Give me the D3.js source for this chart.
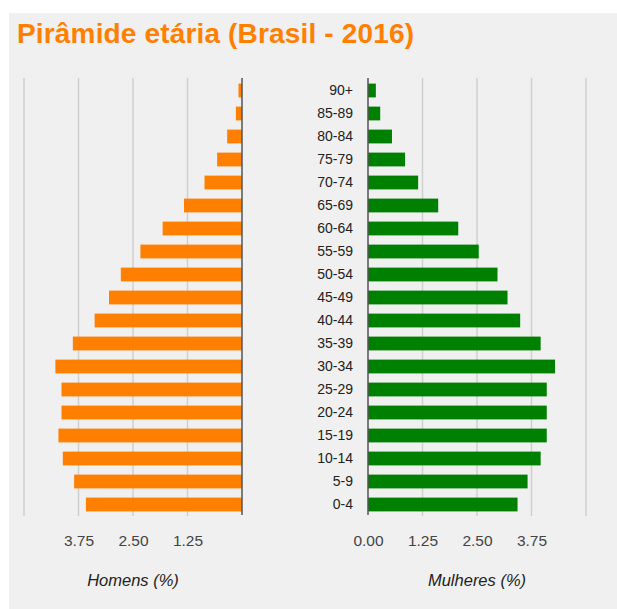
<!DOCTYPE html>
<html>
<head>
<meta charset="utf-8">
<script src="https://cdn.jsdelivr.net/npm/d3@7"></script>
<style>
  body { margin: 0; background: #fff; }
  text { font-family: "Liberation Sans", Arial, sans-serif; }
</style>
</head>
<body>
<div id="pyramid"></div>
<script>
// faixas etárias, de cima para baixo
const ageGroups = ["90+", "85-89", "80-84", "75-79", "70-74", "65-69", "60-64", "55-59",
  "50-54", "45-49", "40-44", "35-39", "30-34", "25-29", "20-24", "15-19", "10-14", "5-9", "0-4"];
const homens = [0.08, 0.14, 0.34, 0.57, 0.86, 1.33, 1.82, 2.33,
  2.78, 3.05, 3.38, 3.88, 4.28, 4.14, 4.14, 4.21, 4.11, 3.85, 3.58];
const mulheres = [0.18, 0.28, 0.55, 0.85, 1.15, 1.61, 2.07, 2.54,
  2.97, 3.20, 3.49, 3.96, 4.29, 4.10, 4.10, 4.10, 3.96, 3.66, 3.43];
const gridValues = [1.25, 2.5, 3.75, 5];
const tickValuesLeft = [1.25, 2.5, 3.75];
const tickValuesRight = [0, 1.25, 2.5, 3.75];

const width = 617, height = 609;
let plotTop = 78, plotBottom = 516;

let svg = d3.select("#pyramid").append("svg")
  .attr("width", width)
  .attr("height", height);

svg.append("rect")
  .attr("x", 9).attr("y", 13)
  .attr("width", width - 9).attr("height", height - 13)
  .attr("fill", "#f0f0f0");

svg.append("text")
  .attr("x", 17).attr("y", 43)
  .attr("fill", "#ff8000")
  .attr("font-size", 28)
  .attr("font-weight", "bold")
  .attr("textLength", 397)
  .attr("lengthAdjust", "spacing")
  .text("Pirâmide etária (Brasil - 2016)");

let xL = d3.scaleLinear().domain([0, 5]).range([242, 24]);
let xR = d3.scaleLinear().domain([0, 5]).range([368, 586]);
let y = d3.scaleBand()
  .domain(ageGroups)
  .range([plotTop + 1, plotBottom])
  .paddingInner(0.4)
  .paddingOuter(0.2);

function grid(x) {
  svg.append("g")
    .selectAll("line")
    .data(gridValues)
    .join("line")
    .attr("x1", d => x(d))
    .attr("x2", d => x(d))
    .attr("y1", plotTop)
    .attr("y2", plotBottom)
    .attr("stroke", "#d0d0d0")
    .attr("stroke-width", 1.5);
}
grid(xL);
grid(xR);

svg.append("g")
  .selectAll("rect")
  .data(homens)
  .join("rect")
  .attr("x", d => xL(d))
  .attr("y", (d, i) => y(ageGroups[i]))
  .attr("width", d => xL(0) - xL(d))
  .attr("height", y.bandwidth())
  .attr("fill", "#ff8000");

svg.append("g")
  .selectAll("rect")
  .data(mulheres)
  .join("rect")
  .attr("x", xR(0))
  .attr("y", (d, i) => y(ageGroups[i]))
  .attr("width", d => xR(d) - xR(0))
  .attr("height", y.bandwidth())
  .attr("fill", "#008000");

// linhas do zero
[xL(0), xR(0)].forEach(x0 => {
  svg.append("line")
    .attr("x1", x0).attr("x2", x0)
    .attr("y1", plotTop).attr("y2", plotBottom - 1)
    .attr("stroke", "#555")
    .attr("stroke-width", 1.5);
});

let xAxis = (x, values) => g => g
  .attr("transform", `translate(0,${plotBottom})`)
  .call(d3.axisBottom(x).tickValues(values).tickFormat(d3.format(".2f")).tickSize(0).tickPadding(19))
  .call(g => g.select(".domain").remove())
  .call(g => g.selectAll(".tick text")
    .attr("font-size", 15.5)
    .attr("fill", "#444"));
let yAxis = g => g
  .attr("transform", `translate(${xR(0)},0)`)
  .call(d3.axisLeft(y).tickSize(0).tickPadding(15))
  .call(g => g.select(".domain").remove())
  .call(g => g.selectAll(".tick text")
    .attr("font-size", 14)
    .attr("fill", "#222"));

svg.append("g").call(xAxis(xL, tickValuesLeft));
svg.append("g").call(xAxis(xR, tickValuesRight));
svg.append("g").call(yAxis);

svg.selectAll("g").attr("font-family", null);

svg.append("text")
  .attr("x", (xL(0) + xL(5)) / 2).attr("y", 586)
  .attr("text-anchor", "middle")
  .attr("font-style", "italic")
  .attr("font-size", 16.5)
  .attr("fill", "#222")
  .text("Homens (%)");
svg.append("text")
  .attr("x", (xR(0) + xR(5)) / 2).attr("y", 586)
  .attr("text-anchor", "middle")
  .attr("font-style", "italic")
  .attr("font-size", 16.5)
  .attr("fill", "#222")
  .text("Mulheres (%)");
</script>
</body>
</html>
